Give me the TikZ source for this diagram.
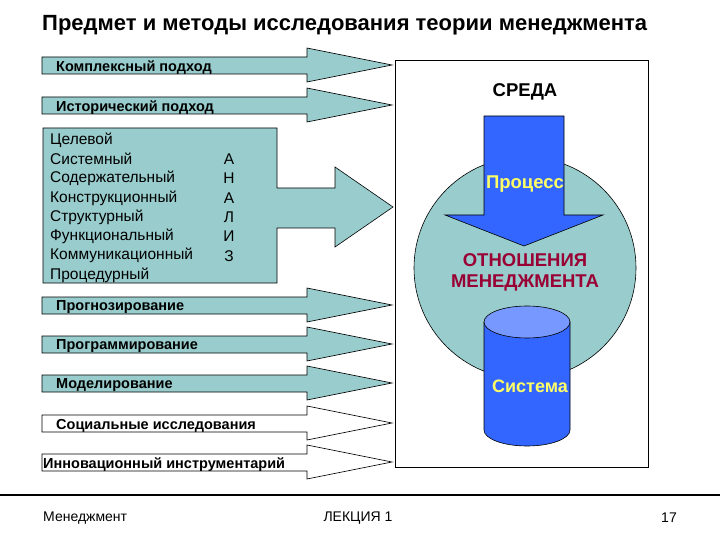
\documentclass[tikz,border=0pt]{standalone}
\usepackage{fontspec}
\setmainfont{Liberation Sans}
\definecolor{arrowfill}{RGB}{153,204,204}
\definecolor{procblue}{RGB}{51,102,255}
\definecolor{systop}{RGB}{119,153,255}
\definecolor{relred}{RGB}{153,0,51}
\definecolor{lblyellow}{RGB}{255,255,102}
\tikzset{
	flow/.style={draw=black, line width=0.6pt},
	flowlabel/.style={anchor=west, inner sep=0pt, font=\bfseries\fontsize{14.5}{16}\selectfont},
	methodtext/.style={anchor=west, inner sep=0pt, font=\fontsize{15.5}{17}\selectfont},
	bigtext/.style={inner sep=0pt, font=\bfseries\fontsize{18.5}{21}\selectfont, align=center},
	foottext/.style={inner sep=0pt, font=\fontsize{14}{16}\selectfont}
}
\begin{document}
\begin{tikzpicture}[x=1pt,y=-1pt]
			\useasboundingbox (0,0) rectangle (720,540);
			% title
			\node[anchor=west, inner sep=0pt, font=\bfseries\fontsize{22}{26}\selectfont] (title) at (42,25) {Предмет и методы исследования теории менеджмента};
			% approach and method arrows
			\foreach \y/\fillc/\nm/\txt/\tx in {57/arrowfill/kompl/Комплексный подход/56, 97/arrowfill/istor/Исторический подход/56, 297/arrowfill/prog/Прогнозирование/56, 336/arrowfill/programm/Программирование/56, 375/arrowfill/model/Моделирование/56, 415/white/soc/Социальные исследования/56, 454/white/innov/Инновационный инструментарий/43}{
				\draw[flow, fill=\fillc] (42,\y) -- (307,\y) -- (307,\y-9) -- (392,\y+8) -- (307,\y+25) -- (307,\y+17) -- (42,\y+17) -- cycle;
				\node[flowlabel] (\nm) at (\tx,\y+10.5) {\txt};
			}
			% analysis box
			\draw[flow, fill=arrowfill] (43,128) -- (277,128) -- (277,188) -- (335,188) -- (335,167) -- (393,207) -- (335,247) -- (335,228) -- (277,228) -- (277,283) -- (43,283) -- cycle;
			\foreach \word [count=\i] in {Целевой,Системный,Содержательный,Конструкционный,Структурный,Функциональный,Коммуникационный,Процедурный}{
				\node[methodtext] (m\i) at (50,120.7+19.3*\i) {\word};
			}
			\foreach \letter [count=\i] in {А,Н,А,Л,И,З}{
				\node[methodtext, anchor=center] (a\i) at (229,140+19.3*\i) {\letter};
			}
			% environment
			\draw[line width=0.8pt] (395,60) rectangle (648,467);
			\node[bigtext] (sreda) at (525,92) {СРЕДА};
			\draw[flow, fill=arrowfill] (525,268) circle[radius=111pt];
			% process arrow
			\draw[flow, fill=procblue] (484,116) -- (564,116) -- (564,215) -- (603,215) -- (524,246) -- (445,215) -- (484,215) -- cycle;
			\node[bigtext, text=lblyellow] (proc) at (525,184) {Процесс};
			\node[bigtext, text=relred, font=\bfseries\fontsize{18.5}{21}\selectfont] (otn) at (525,272) {ОТНОШЕНИЯ\\МЕНЕДЖМЕНТА};
			% system cylinder
			\draw[flow, fill=procblue] (484,322) -- (484,430) arc[start angle=180, end angle=360, x radius=43pt, y radius=16pt] -- (570,322) -- cycle;
			\draw[flow, fill=systop] (527,322) ellipse[x radius=43pt, y radius=16pt];
			\node[bigtext, text=lblyellow, font=\bfseries\fontsize{18}{21}\selectfont] (sist) at (530,386) {Система};
			% footer
			\draw[line width=2.5pt] (0,495) -- (720,495);
			\node[foottext, anchor=west] (foot1) at (43,518) {Менеджмент};
			\node[foottext] (foot2) at (358,518) {ЛЕКЦИЯ 1};
			\node[foottext] (foot3) at (669,518) {17};
\end{tikzpicture}
\end{document}
